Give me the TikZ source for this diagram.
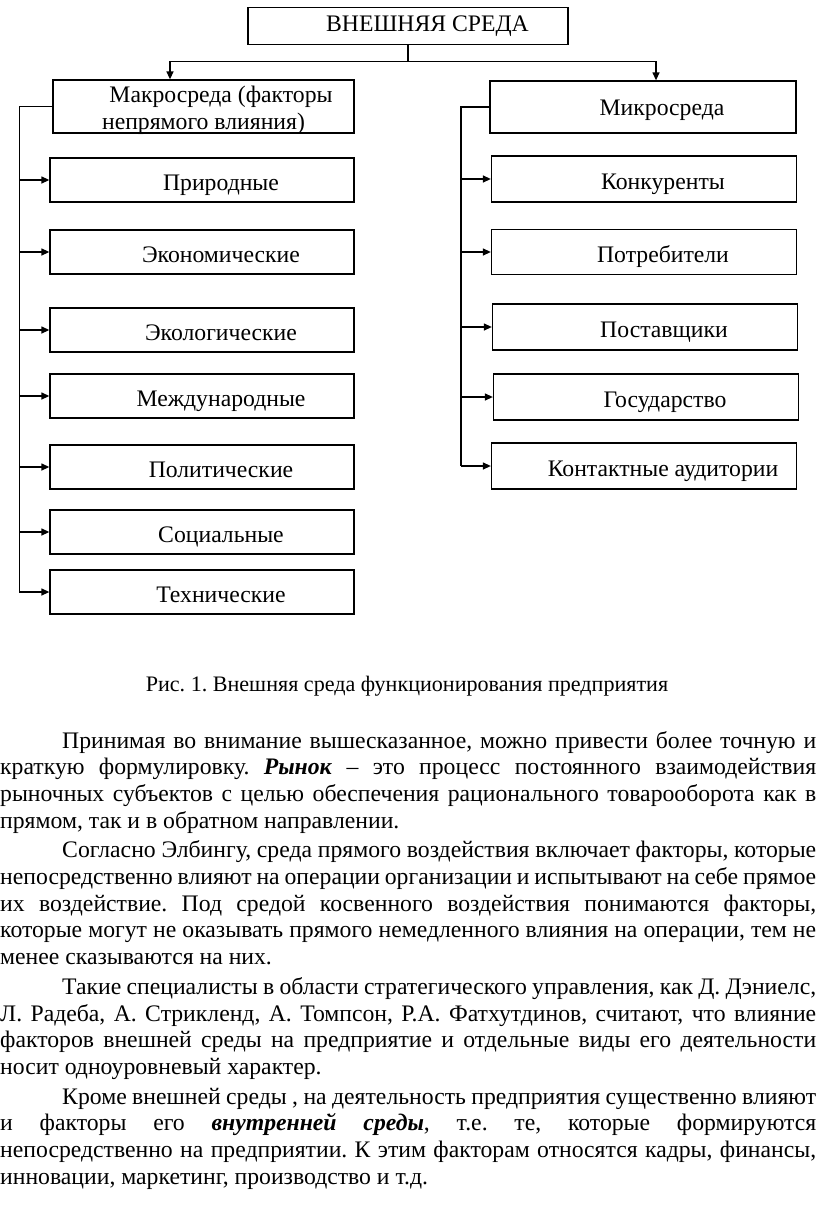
\documentclass[tikz,border=0pt]{standalone}
\usepackage{fontspec}
\setmainfont{Liberation Serif}
\usetikzlibrary{arrows.meta}
\tikzset{
    body-text/.style = {inner sep=0pt, font=\fontsize{23.7}{26.7}\selectfont},
    plain-box/.style = {draw=black, fill=white, line width=1.3pt, rectangle, body-text},
    factor-box/.style = {plain-box, minimum width=304pt, minimum height=44pt, text height=20pt, text depth=0pt, execute at begin node=\hspace*{38pt}},
    link/.style = {line width=1.3pt},
    link-arrow/.style = {link, -{Triangle[length=8pt, width=7pt]}},
}

\begin{document}
\begin{tikzpicture}[x=1pt, y=-1pt]
\useasboundingbox (0,0) rectangle (816,1221);
% top of the tree
\node[plain-box, minimum width=320pt, minimum height=37pt, execute at begin node=\hspace*{39pt}] (top) at (408,26) {ВНЕШНЯЯ СРЕДА};
\node[plain-box, minimum width=301pt, minimum height=53pt] (makro) at (203.5,106.5) {};
\node[body-text, align=center] (makro-text) at ([yshift=-4pt]makro.center) {\hspace*{35pt}Макросреда (факторы\\непрямого влияния)};
\node[factor-box, minimum width=306pt, minimum height=52pt, text height=16pt] (mikro) at (643,107) {Микросреда};

% macro factors
\node[factor-box] (prirod) at (202,180) {Природные};
\node[factor-box] (ekonom) at (202,252) {Экономические};
\node[factor-box] (ekolog) at (202,330) {Экологические};
\node[factor-box] (mezhd) at (202,396) {Международные};
\node[factor-box] (polit) at (202,467) {Политические};
\node[factor-box] (social) at (202,532) {Социальные};
\node[factor-box] (tekhn) at (202,592) {Технические};

% micro factors
\node[factor-box, minimum width=305pt, minimum height=46pt] (konk) at (644,179) {Конкуренты};
\node[factor-box, minimum width=305pt, minimum height=45pt] (potreb) at (644,252) {Потребители};
\node[factor-box, minimum width=305pt, minimum height=46pt] (postav) at (645,327) {Поставщики};
\node[factor-box, minimum width=305pt, minimum height=46pt] (gos) at (646,397) {Государство};
\node[factor-box, minimum width=305pt, minimum height=46pt] (kontakt) at (644,466) {Контактные аудитории};

\coordinate (makro-in) at ([xshift=-33.5pt]makro.north);
\coordinate (mikro-in) at ([xshift=13pt]mikro.north);
\draw[link] (top.south) -- ++(0,16) coordinate (split);
\draw[link-arrow] (split) -| (makro-in);
\draw[link-arrow] (split) -| (mikro-in);

\draw[link] (makro.west) -- ++(-33,0) coordinate (left-top) -- (left-top |- tekhn.west);
\draw[link-arrow] (left-top |- prirod.west) -- (prirod.west);
\draw[link-arrow] (left-top |- ekonom.west) -- (ekonom.west);
\draw[link-arrow] (left-top |- ekolog.west) -- (ekolog.west);
\draw[link-arrow] (left-top |- mezhd.west) -- (mezhd.west);
\draw[link-arrow] (left-top |- polit.west) -- (polit.west);
\draw[link-arrow] (left-top |- social.west) -- (social.west);
\draw[link-arrow] (left-top |- tekhn.west) -- (tekhn.west);

\draw[link] (mikro.west) -- ++(-28.5,0) coordinate (right-top) -- (right-top |- kontakt.west);
\draw[link-arrow] (right-top |- konk.west) -- (konk.west);
\draw[link-arrow] (right-top |- potreb.west) -- (potreb.west);
\draw[link-arrow] (right-top |- postav.west) -- (postav.west);
\draw[link-arrow] (right-top |- gos.west) -- (gos.west);
\draw[link-arrow] (right-top |- kontakt.west) -- (kontakt.west);

% caption and text below
\node[inner sep=0pt, font=\fontsize{22.1}{24}\selectfont\frenchspacing, anchor=base] (caption) at (407,691) {Рис. 1. Внешняя среда функционирования предприятия};
\node[body-text, anchor=base west] (body) at (0,748) {\begin{minipage}[t]{816pt}
    \setlength{\parindent}{62pt}\setlength{\parskip}{3pt}
    \hyphenpenalty=10000 \tolerance=10000 \frenchspacing

    Принимая во внимание вышесказанное, можно привести более точную и\linebreak
    краткую формулировку. \textbf{\textit{Рынок}} – это процесс постоянного взаимодействия\linebreak
    рыночных субъектов с целью обеспечения рационального товарооборота как в\linebreak
    прямом, так и в обратном направлении.

    Согласно Элбингу, среда прямого воздействия включает факторы, которые\linebreak
    непосредственно влияют на операции организации и испытывают на себе прямое\linebreak
    их воздействие. Под средой косвенного воздействия понимаются факторы,\linebreak
    которые могут не оказывать прямого немедленного влияния на операции, тем не\linebreak
    менее сказываются на них.

    Такие специалисты в области стратегического управления, как Д. Дэниелс,\linebreak
    Л. Радеба, А. Стрикленд, А. Томпсон, Р.А. Фатхутдинов, считают, что влияние\linebreak
    факторов внешней среды на предприятие и отдельные виды его деятельности\linebreak
    носит одноуровневый характер.

    Кроме внешней среды , на деятельность предприятия существенно влияют\linebreak
    и факторы его \textbf{\textit{внутренней среды}}, т.е. те, которые формируются\linebreak
    непосредственно на предприятии. К этим факторам относятся кадры, финансы,\linebreak
    инновации, маркетинг, производство и т.д.
\end{minipage}};
\end{tikzpicture}
\end{document}
